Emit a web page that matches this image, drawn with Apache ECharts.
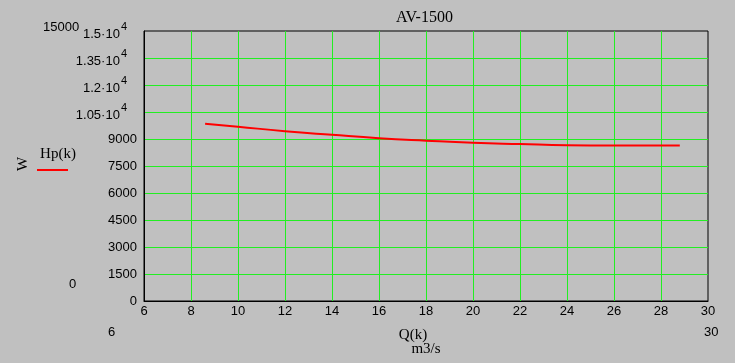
<!DOCTYPE html>
<html>
<head>
<meta charset="utf-8">
<script src="https://cdn.jsdelivr.net/npm/echarts@6/dist/echarts.min.js"></script>
<style>
  html, body { margin: 0; padding: 0; background: #c0c0c0; }
  #chart { width: 735px; height: 363px; }
</style>
</head>
<body>
<div id="chart"></div>
<script>
// flow Q(k), m3/s
const qValues = [8.6, 10, 12, 14, 16, 18, 20, 22, 24, 26, 28.8];
// power Hp(k), W
const hpValues = [9850, 9680, 9436, 9234, 9046, 8909, 8793, 8719, 8655, 8642, 8640];

const yTicks = [0, 1500, 3000, 4500, 6000, 7500, 9000, 10500, 12000, 13500, 15000];
const yTickLabels = ['0', '1500', '3000', '4500', '6000', '7500', '9000',
  '1.05·10^4', '1.2·10^4', '1.35·10^4', '1.5·10^4'];

const sansFont = '"Liberation Sans", Arial, sans-serif';
const serifFont = '"Liberation Serif", "DejaVu Serif", serif';

const myChart = echarts.init(document.getElementById('chart'));

const option = {
  backgroundColor: '#c0c0c0',
  animation: false,
  title: {
    text: 'AV-1500',
    left: 396,
    top: 10,
    padding: 0,
    textStyle: { fontFamily: serifFont, fontSize: 16, fontWeight: 'normal', color: '#000' }
  },
  grid: {
    left: 144, top: 31, width: 564, height: 270,
    show: true, borderColor: '#000', borderWidth: 1, backgroundColor: 'transparent'
  },
  xAxis: {
    type: 'value',
    min: 6, max: 30, interval: 2,
    axisLine: { lineStyle: { color: '#000', width: 1 } },
    axisTick: { show: false },
    splitLine: { show: true, showMinLine: false, showMaxLine: false, lineStyle: { color: '#22ee22', width: 1 } },
    axisLabel: { margin: 4, color: '#000', fontFamily: sansFont, fontSize: 13 }
  },
  yAxis: {
    type: 'value',
    min: 0, max: 15000, interval: 1500,
    axisLine: { lineStyle: { color: '#000', width: 1 } },
    axisTick: { show: false },
    splitLine: { show: true, showMinLine: false, showMaxLine: false, lineStyle: { color: '#22ee22', width: 1 } },
    axisLabel: {
      margin: 7,
      color: '#000',
      formatter: function (v) {
        const i = yTicks.indexOf(v);
        const s = i >= 0 ? yTickLabels[i] : String(v);
        const parts = s.split('^');
        if (parts.length === 2) return '{e|' + parts[0] + '}{s|' + parts[1] + '}';
        return '{b|' + s + '}';
      },
      rich: {
        b: { fontFamily: sansFont, fontSize: 13, lineHeight: 15, color: '#000' },
        e: { fontFamily: sansFont, fontSize: 13, lineHeight: 19, verticalAlign: 'bottom', color: '#000' },
        s: { fontFamily: sansFont, fontSize: 11, lineHeight: 11, verticalAlign: 'top', padding: [0, 10, 0, 1], color: '#000' }
      }
    }
  },
  graphic: [
    { type: 'text', left: 43, top: 21, style: { text: '15000', font: '13px ' + sansFont, fill: '#000' } },
    { type: 'text', left: 69, top: 278, style: { text: '0', font: '13px ' + sansFont, fill: '#000' } },
    { type: 'text', left: 108, top: 326, style: { text: '6', font: '13px ' + sansFont, fill: '#000' } },
    { type: 'text', left: 704, top: 326, style: { text: '30', font: '13px ' + sansFont, fill: '#000' } },
    { type: 'text', x: 23, y: 164, rotation: Math.PI / 2,
      style: { text: 'W', font: '15px ' + serifFont, fill: '#000', align: 'center', verticalAlign: 'middle' } },
    { type: 'text', x: 58, y: 154,
      style: { text: 'Hp(k)', font: '15px ' + serifFont, fill: '#000', align: 'center', verticalAlign: 'middle' } },
    { type: 'line', shape: { x1: 37, y1: 170, x2: 68, y2: 170 }, style: { stroke: '#ff0000', lineWidth: 2 } },
    { type: 'text', x: 413, y: 335,
      style: { text: 'Q(k)', font: '15px ' + serifFont, fill: '#000', align: 'center', verticalAlign: 'middle' } },
    { type: 'text', x: 426, y: 349,
      style: { text: 'm3/s', font: '15px ' + serifFont, fill: '#000', align: 'center', verticalAlign: 'middle' } }
  ],
  series: [
    {
      name: 'Hp(k)',
      type: 'line',
      smooth: true,
      showSymbol: false,
      lineStyle: { color: '#ff0000', width: 2 },
      data: qValues.map((q, i) => [q, hpValues[i]])
    }
  ]
};
myChart.setOption(option);
</script>
</body>
</html>
